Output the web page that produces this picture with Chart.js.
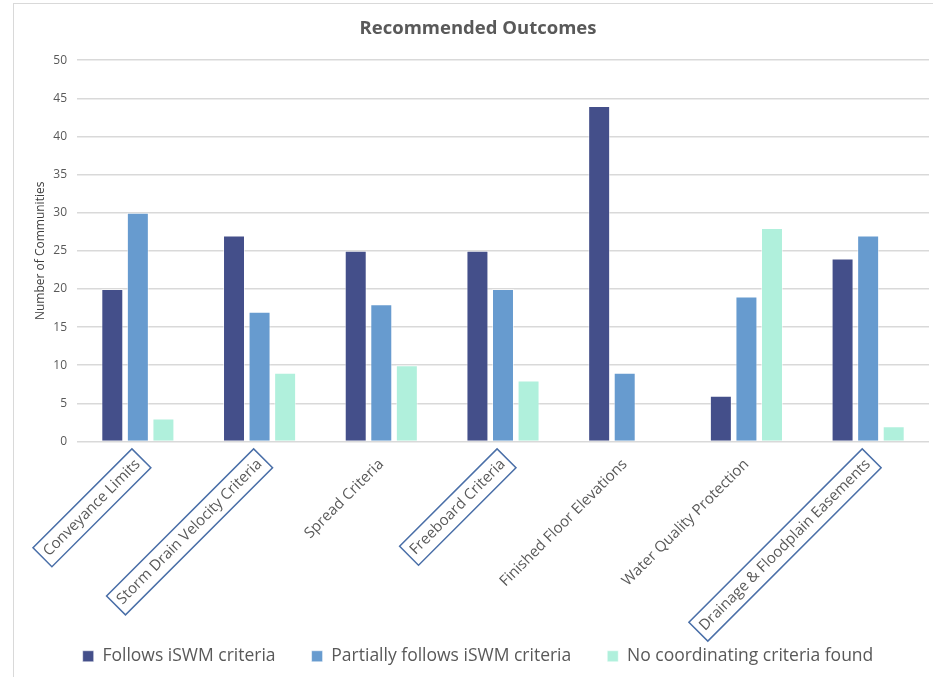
<!doctype html>
<html lang="en">

<head>
	<meta charset="utf-8">
	<title>Recommended Outcomes</title>
	<style>
		* {
			margin: 0;
			padding: 0;
		}

		body {
			background: #fff;
			overflow: hidden;
		}

		.frame {
			position: absolute;
			left: 13px;
			top: 3px;
			width: 940px;
			height: 700px;
			border: 1px solid #d9d9d9;
		}

		.chartBox {
			position: absolute;
			left: 0;
			top: 0;
			width: 933px;
			height: 677px;
		}
	</style>
</head>

<body>
	<div class="frame"></div>
	<div class="chartBox">
		<canvas id="outcomeChart"></canvas>
	</div>
	<script src="https://cdn.jsdelivr.net/npm/chart.js"></script>
	<script>
		const categories = [
			'Conveyance Limits',
			'Storm Drain Velocity Criteria',
			'Spread Criteria',
			'Freeboard Criteria',
			'Finished Floor Elevations',
			'Water Quality Protection',
			'Drainage & Floodplain Easements'
		]
		const follows = [20, 27, 25, 25, 44, 6, 24]
		const partially = [30, 17, 18, 20, 9, 19, 27]
		const noCriteria = [3, 9, 10, 8, 0, 28, 2]
		// labels outlined in the original
		const boxedLabels = ['Conveyance Limits', 'Storm Drain Velocity Criteria', 'Freeboard Criteria', 'Drainage & Floodplain Easements']

		const textColor = '#595959'
		const gridColor = '#d9d9d9'
		const labelFont = { family: 'Open Sans', size: 15 }

		// long tick labels run past the axis box into the legend's padding,
		// so let them draw down to the canvas bottom instead of being clipped
		const labelRoom = {
			id: 'labelRoom',
			afterLayout(chart) {
				chart.scales.x.bottom = chart.height
			}
		}

		// draws the outlines around the boxed category labels
		const labelBoxes = {
			id: 'labelBoxes',
			afterDraw(chart) {
				const scale = chart.scales.x
				const ctx = chart.ctx
				const items = scale.getLabelItems()
				items.forEach(item => {
					if (!boxedLabels.includes(item.label)) return
					const opts = item.options
					ctx.save()
					ctx.font = item.font.string
					const w = ctx.measureText(item.label).width
					const h = item.font.size * 1.25
					const pad = 5
					ctx.translate(opts.translation[0], opts.translation[1])
					ctx.rotate(opts.rotation)
					let x0 = opts.textAlign === 'right' ? -w : (opts.textAlign === 'center' ? -w / 2 : 0)
					let yMid = item.textOffset
					ctx.strokeStyle = '#4a6fa8'
					ctx.lineWidth = 1.5
					ctx.strokeRect(x0 - pad, yMid - h / 2 - pad + 1, w + pad * 2, h + pad * 2 - 2)
					ctx.restore()
				})
			}
		}

		const data = {
			labels: categories,
			datasets: [
				{
					label: 'Follows iSWM criteria',
					data: follows,
					backgroundColor: '#444f8a',
					borderColor: 'rgba(255,255,255,0.5)',
					borderWidth: 1
				}, {
					label: 'Partially follows iSWM criteria',
					data: partially,
					backgroundColor: '#679bcf',
					borderColor: 'rgba(255,255,255,0.5)',
					borderWidth: 1
				}, {
					label: 'No coordinating criteria found',
					data: noCriteria,
					backgroundColor: '#b0f0dc',
					borderColor: 'rgba(255,255,255,0.5)',
					borderWidth: 1
				}
			]
		}

		const config = {
			type: 'bar',
			data: data,
			plugins: [labelRoom, labelBoxes],
			options: {
				responsive: true,
				maintainAspectRatio: false,
				animation: false,
				categoryPercentage: 0.63,
				barPercentage: 0.86,
				layout: {
					padding: { left: 27, right: 4, top: 0, bottom: 2 }
				},
				scales: {
					x: {
						grid: { display: false, drawTicks: false },
						border: { display: false },
						ticks: {
							color: textColor,
							font: labelFont,
							minRotation: 45,
							maxRotation: 45,
							padding: 14,
							autoSkip: false
						},
						afterFit: (scale) => { scale.height = 170 }
					},
					y: {
						min: 0,
						max: 50,
						ticks: {
							stepSize: 5,
							color: textColor,
							font: { family: 'Open Sans', size: 12 },
							padding: 10
						},
						grid: { color: gridColor, lineWidth: 1.5, drawTicks: false },
						border: { display: false },
						title: {
							display: true,
							text: 'Number of Communities',
							color: '#404040',
							font: { family: 'Open Sans', size: 12 },
							padding: { top: 6, bottom: 0 }
						},
						afterFit: (scale) => { scale.width = 50 }
					}
				},
				plugins: {
					title: {
						display: true,
						text: 'Recommended Outcomes',
						color: textColor,
						font: { family: 'Open Sans', size: 18.5, weight: 'bold' },
						padding: { top: 18, bottom: 20 }
					},
					legend: {
						position: 'bottom',
						labels: {
							color: textColor,
							font: { family: 'Open Sans', size: 17.5 },
							boxWidth: 11,
							boxHeight: 11,
							padding: 36
						}
					},
					tooltip: { enabled: false }
				}
			}
		}

		const outcomeChart = new Chart(
			document.getElementById('outcomeChart'),
			config
		)
	</script>
</body>

</html>
